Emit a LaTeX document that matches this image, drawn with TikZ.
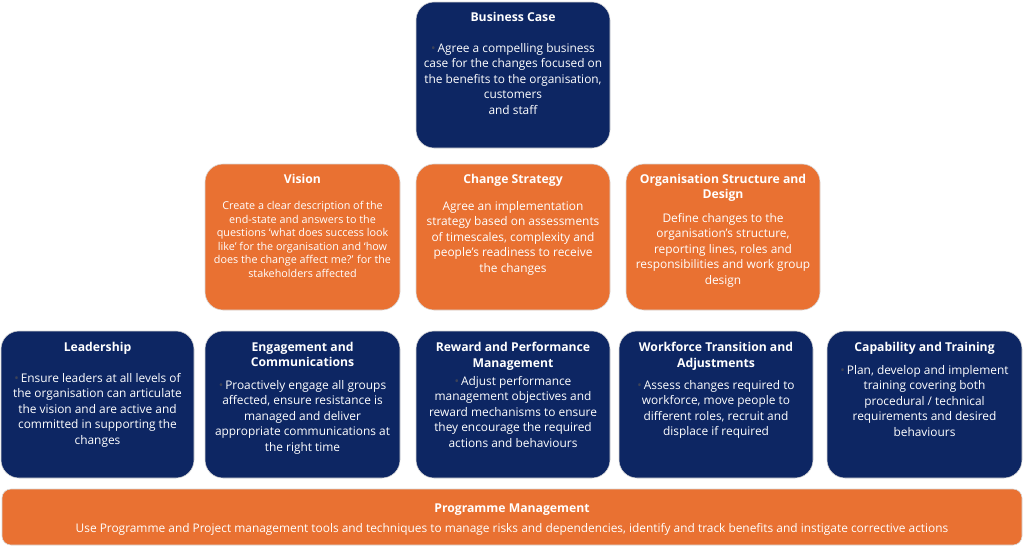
\documentclass[tikz,border=0pt]{standalone}
\usepackage{fontspec}
\setmainfont{Open Sans}
\definecolor{navy}{RGB}{13,38,99}
\definecolor{orng}{RGB}{233,113,50}
\definecolor{bul}{RGB}{60,66,88}
\newcommand{\bl}{\textcolor{bul}{•}\,}
\tikzset{
  box/.style={rounded corners=18pt, draw=white!70!gray, line width=0.6pt, inner sep=0pt},
  navybox/.style={box, fill=navy},
  orangebox/.style={box, fill=orng},
  ttl/.style={text=white, font=\bfseries\fontsize{12.2}{15.5}\selectfont, align=center, anchor=north, inner sep=0pt},
  bodytxt/.style={text=white, font=\fontsize{11.9}{15.5}\selectfont, align=center, anchor=north, inner sep=0pt},
  smalltxt/.style={text=white, font=\fontsize{10.8}{13.5}\selectfont, align=center, anchor=north, inner sep=0pt},
}
\begin{document}
\begin{tikzpicture}[x=1pt,y=-1pt]
\useasboundingbox[fill=white] (0,0) rectangle (1024,547);
% top
\node[navybox, minimum width=194pt, minimum height=146pt] (bc) at (513,75) {};
\node[ttl] (bct) at (513,12) {Business Case};
\node[bodytxt] (bcb) at (513,43) {\bl Agree a compelling business\\case for the changes focused on\\the benefits to the organisation,\\customers\\and staff};
% row 2
\node[orangebox, minimum width=195pt, minimum height=146pt] (vi) at (302.5,237) {};
\node[ttl] (vit) at (302.5,174) {Vision};
\node[smalltxt] (vib) at (302.5,201.5) {Create a clear description of the\\end-state and answers to the\\questions ‘what does success look\\like’ for the organisation and ‘how\\does the change affect me?’ for the\\stakeholders affected};
\node[orangebox, minimum width=194pt, minimum height=146pt] (cs) at (513,237) {};
\node[ttl] (cst) at (513,174) {Change Strategy};
\node[bodytxt] (csb) at (513,201) {Agree an implementation\\strategy based on assessments\\of timescales, complexity and\\people’s readiness to receive\\the changes};
\node[orangebox, minimum width=194pt, minimum height=146pt] (os) at (723,237) {};
\node[ttl] (ost) at (723,174) {Organisation Structure and\\Design};
\node[bodytxt] (osb) at (723,213) {Define changes to the\\organisation’s structure,\\reporting lines, roles and\\responsibilities and work group\\design};
% row 3
\node[navybox, minimum width=193pt, minimum height=147pt] (le) at (97.5,404.5) {};
\node[ttl] (let) at (97.5,342) {Leadership};
\node[bodytxt] (leb) at (97.5,373) {\bl Ensure leaders at all levels of\\the organisation can articulate\\the vision and are active and\\committed in supporting the\\changes};
\node[navybox, minimum width=195pt, minimum height=147pt] (en) at (302.5,404.5) {};
\node[ttl] (ent) at (302.5,342) {Engagement and\\Communications};
\node[bodytxt] (enb) at (302.5,380) {\bl Proactively engage all groups\\affected, ensure resistance is\\managed and deliver\\appropriate communications at\\the right time};
\node[navybox, minimum width=194pt, minimum height=147pt] (re) at (513,404.5) {};
\node[ttl] (ret) at (513,342) {Reward and Performance\\Management};
\node[bodytxt] (reb) at (513,376) {\bl Adjust performance\\management objectives and\\reward mechanisms to ensure\\they encourage the required\\actions and behaviours};
\node[navybox, minimum width=194pt, minimum height=147pt] (wf) at (716,404.5) {};
\node[ttl] (wft) at (716,342) {Workforce Transition and\\Adjustments};
\node[bodytxt] (wfb) at (716,380) {\bl Assess changes required to\\workforce, move people to\\different roles, recruit and\\displace if required};
\node[navybox, minimum width=195pt, minimum height=147pt] (ca) at (924.5,404.5) {};
\node[ttl] (cat) at (924.5,342) {Capability and Training};
\node[bodytxt] (cab) at (924.5,365) {\bl Plan, develop and implement\\training covering both\\procedural / technical\\requirements and desired\\behaviours};
% bottom
\node[orangebox, rounded corners=9pt, minimum width=1020pt, minimum height=56pt] (pm) at (512,517) {};
\node[ttl] (pmt) at (512,504) {Programme Management};
\node[bodytxt] (pmb) at (512,523) {Use Programme and Project management tools and techniques to manage risks and dependencies, identify and track benefits and instigate corrective actions};
\end{tikzpicture}
\end{document}
